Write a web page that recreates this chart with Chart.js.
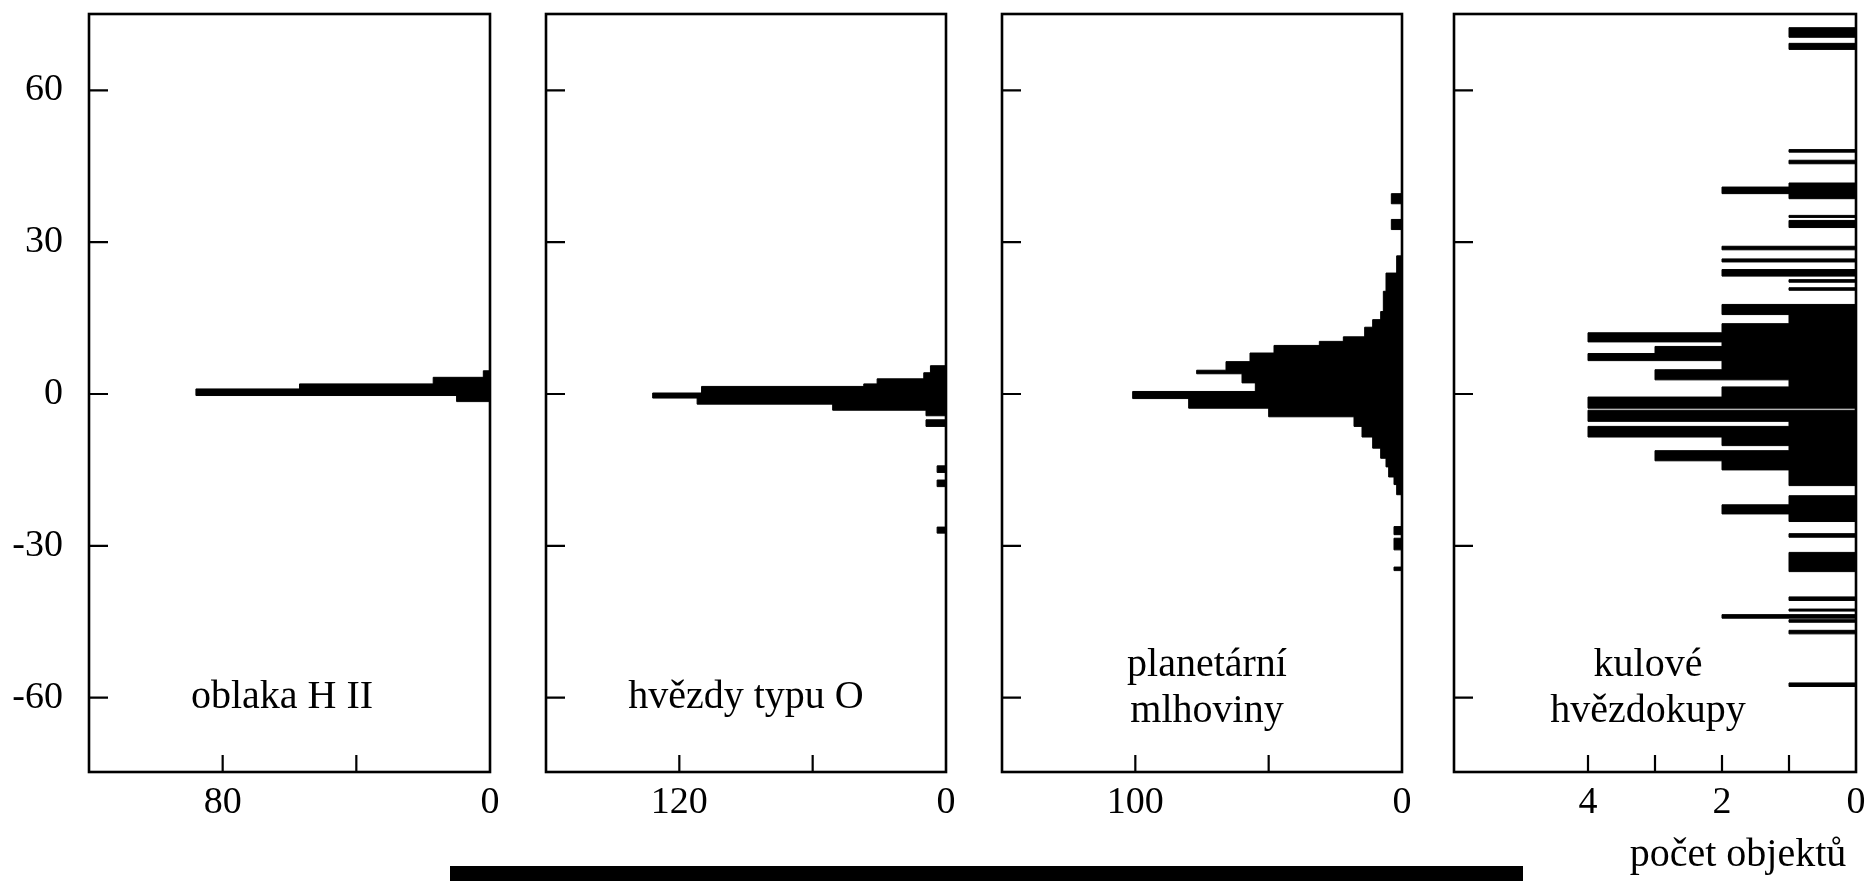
<!DOCTYPE html>
<html>
<head>
<meta charset="utf-8">
<title>Rozložení objektů podle galaktické šířky</title>
<script src="https://cdn.jsdelivr.net/npm/chart.js@4.4.1/dist/chart.umd.min.js"></script>
<style>
  html, body { margin: 0; padding: 0; background: #fff; overflow: hidden; }
  #wrap { position: relative; width: 1871px; height: 881px; }
  #wrap canvas { position: absolute; top: 0; }
  .lbl { position: absolute; width: 400px; text-align: center; white-space: nowrap;
         font: 40px/45.7px "Liberation Serif", "Times New Roman", serif; color: #000; }
  #bar { position: absolute; left: 450px; top: 866px; width: 1073px; height: 15px; background: #000; }
</style>
</head>
<body>
<div id="wrap">
  <canvas id="p1"></canvas>
  <canvas id="p2"></canvas>
  <canvas id="p3"></canvas>
  <canvas id="p4"></canvas>
  <div class="lbl" style="left:82px;top:672px">oblaka H II</div>
  <div class="lbl" style="left:546px;top:672px">hvězdy typu O</div>
  <div class="lbl" style="left:1007px;top:640px">planetární<br>mlhoviny</div>
  <div class="lbl" style="left:1448px;top:640px">kulové<br>hvězdokupy</div>
  <div class="lbl" style="left:1538px;top:830px">počet objektů</div>
  <div id="bar"></div>
</div>
<script>
// galactic latitude axis (degrees)
const latTicks = [-60, -30, 0, 30, 60];
const latMin = -74.7, latMax = 75.1;

// oblaka H II: bin lower edge, upper edge, count
const hiiLo = [-1.5, -0.3, 1.0, 2.0, 3.3];
const hiiHi = [-0.3, 1.0, 2.0, 3.3, 4.6];
const hiiN  = [10, 88, 57, 17, 2];

// hvezdy typu O
const oLo = [-27.5, -18.3, -15.5, -6.4, -4.3, -3.2, -2.0, -0.8, 0.2, 1.5, 2.0, 3.0, 4.2];
const oHi = [-26.3, -17.0, -14.2, -5.1, -3.2, -2.0, -0.8, 0.2, 1.5, 2.0, 3.0, 4.2, 5.6];
const oN  = [4, 4, 4, 9, 9, 51, 112, 132, 110, 37, 31, 10, 7];

// planetarni mlhoviny
const pnLo = [-34.9, -30.8, -27.8, -19.9, -17.9, -16.4, -14.4, -12.7, -10.7, -8.5, -6.4, -4.5, -2.8, -0.9,
              0.5, 2.2, 4.0, 4.7, 6.4, 8.1, 9.6, 10.4, 11.3, 13.2, 14.7, 16.3, 20.3, 23.9, 32.5, 37.6];
const pnHi = [-34.2, -28.5, -26.2, -17.9, -16.4, -14.4, -12.7, -10.7, -8.5, -6.4, -4.5, -2.8, -0.9, 0.5,
              2.2, 4.0, 4.7, 6.4, 8.1, 9.6, 10.4, 11.3, 13.2, 14.7, 16.3, 20.3, 23.9, 27.3, 34.5, 39.6];
const pnN  = [3, 3, 3, 2, 3, 5, 6, 8, 11, 15, 18, 50, 80, 101,
              55, 60, 77, 66, 57, 48, 31, 22, 14, 11, 8, 7, 6, 2, 4, 4];

// kulove hvezdokupy
const gcLo = [-57.8, -47.4, -45.1, -44.3, -42.9, -40.8, -35.1, -28.3, -25.2, -23.7, -21.9, -18.1, -15.0,
              -13.2, -11.2, -10.2, -8.5, -6.4, -5.4, -2.8, -0.6, 1.4, 2.8, 4.8, 6.6, 8.0, 9.4, 10.3,
              12.1, 13.9, 15.7, 20.5, 22.1, 23.3, 26.1, 28.5, 32.9, 34.9, 38.6, 39.6, 40.9, 45.5, 47.8,
              68.1, 70.5];
const gcHi = [-57.1, -46.7, -44.6, -43.6, -42.5, -40.1, -31.3, -27.6, -23.7, -21.9, -20.1, -15.0, -13.2,
              -11.2, -10.2, -8.5, -6.4, -5.4, -3.2, -0.6, 1.4, 2.8, 4.8, 6.6, 8.0, 9.4, 10.3, 12.1,
              13.9, 15.7, 17.7, 21.0, 22.6, 24.6, 26.7, 29.2, 34.3, 35.3, 39.6, 40.9, 41.7, 46.2, 48.3,
              69.3, 72.4];
const gcN  = [1, 1, 1, 2, 1, 1, 1, 1, 1, 2, 1, 1, 2,
              3, 1, 2, 4, 1, 4, 4, 2, 1, 3, 2, 4, 3, 2, 4,
              2, 1, 2, 1, 1, 2, 2, 2, 1, 1, 1, 2, 1, 1, 1,
              1, 1];

// x axes: tick marks and labelled values
const hiiMarks = [40, 80], hiiLabels = [80, 0];
const oMarks = [60, 120], oLabels = [120, 0];
const pnMarks = [50, 100], pnLabels = [100, 0];
const gcMarks = [1, 2, 3, 4], gcLabels = [4, 2, 0];

const panels = [
  { id: 'p1', left: 89,   w: 401, max: 120, marks: hiiMarks, labels: hiiLabels, lo: hiiLo, hi: hiiHi, n: hiiN, yLabels: true },
  { id: 'p2', left: 546,  w: 400, max: 180, marks: oMarks,   labels: oLabels,   lo: oLo,   hi: oHi,   n: oN,   yLabels: false },
  { id: 'p3', left: 1002, w: 400, max: 150, marks: pnMarks,  labels: pnLabels,  lo: pnLo,  hi: pnHi,  n: pnN,  yLabels: false },
  { id: 'p4', left: 1454, w: 402, max: 6,   marks: gcMarks,  labels: gcLabels,  lo: gcLo,  hi: gcHi,  n: gcN,  yLabels: false }
];

const PAD_L = 100, PAD_R = 40;
const font = { family: 'Liberation Serif', size: 38 };

// histogram outline: each bin goes out from 0 to its count and back
function outline(lo, hi, n) {
  const pts = [];
  lo.forEach((v, i) => {
    pts.push({ x: 0, y: v }, { x: n[i], y: v }, { x: n[i], y: hi[i] }, { x: 0, y: hi[i] });
  });
  return pts;
}

// frame box + inward tick marks
function makeFrame(marks) {
  return {
    id: 'frame',
    afterDatasetsDraw(chart) {
      const { ctx, chartArea: a, scales: { x, y } } = chart;
      ctx.save();
      ctx.strokeStyle = '#000';
      ctx.lineWidth = 2.2;
      ctx.beginPath();
      latTicks.forEach(v => {
        const py = y.getPixelForValue(v);
        ctx.moveTo(a.left, py);
        ctx.lineTo(a.left + 19, py);
      });
      marks.forEach(v => {
        const px = x.getPixelForValue(v);
        ctx.moveTo(px, a.bottom);
        ctx.lineTo(px, a.bottom - 17);
      });
      ctx.stroke();
      ctx.lineWidth = 2.6;
      ctx.strokeRect(a.left, a.top, a.right - a.left, a.bottom - a.top);
      ctx.restore();
    }
  };
}

panels.forEach(p => {
  const cv = document.getElementById(p.id);
  cv.width = PAD_L + p.w + PAD_R;
  cv.height = 881;
  cv.style.left = (p.left - PAD_L) + 'px';
  cv.style.width = cv.width + 'px';
  cv.style.height = '881px';

  new Chart(cv, {
    type: 'line',
    data: {
      datasets: [{
        data: outline(p.lo, p.hi, p.n),
        borderColor: '#000',
        borderWidth: 1,
        backgroundColor: '#000',
        fill: 'origin',
        pointRadius: 0,
        tension: 0
      }]
    },
    options: {
      indexAxis: 'y',
      responsive: false,
      animation: false,
      events: [],
      layout: { padding: { left: 0, right: PAD_R, top: 14, bottom: 0 } },
      plugins: { legend: { display: false }, tooltip: { enabled: false } },
      scales: {
        x: {
          type: 'linear', reverse: true, min: 0, max: p.max,
          grid: { display: false, drawTicks: false },
          border: { display: false },
          ticks: { font, color: '#000', padding: 8, maxRotation: 0, autoSkip: false, callback: v => String(v) },
          afterBuildTicks: s => { s.ticks = p.labels.map(v => ({ value: v })); },
          afterFit: s => { s.height = 109; s.paddingLeft = 0; s.paddingRight = 0; }
        },
        y: {
          type: 'linear', min: latMin, max: latMax,
          grid: { display: false, drawTicks: false },
          border: { display: false },
          ticks: { display: p.yLabels, font, color: '#000', padding: 26, autoSkip: false, callback: v => String(v) },
          afterBuildTicks: s => { s.ticks = latTicks.map(v => ({ value: v })); },
          afterFit: s => { s.width = PAD_L; s.paddingTop = 0; s.paddingBottom = 0; }
        }
      }
    },
    plugins: [makeFrame(p.marks)]
  });
});
</script>
</body>
</html>
